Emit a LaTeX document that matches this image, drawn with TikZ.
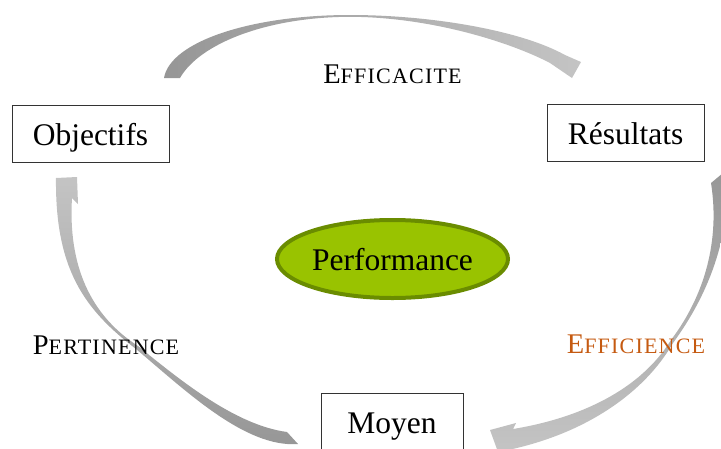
\documentclass[tikz,border=0pt]{standalone}
\usepackage{fontspec}
\setmainfont{Liberation Serif}
\newfontfamily\lsfont[LetterSpace=5.5]{Liberation Serif}
\usetikzlibrary{shapes.geometric}
\definecolor{arrdark}{HTML}{969696}
\definecolor{arrlight}{HTML}{C4C4C4}
\definecolor{perffill}{HTML}{99C300}
\definecolor{perfdraw}{HTML}{6A8C00}
\definecolor{effcol}{HTML}{C55A11}
\newcommand\mysc[2]{{\fontsize{28.5}{30}\selectfont #1}{\lsfont\fontsize{22}{24}\selectfont #2}}
\tikzset{
  boxnode/.style={draw=black!80, line width=0.9pt, rectangle, inner sep=0pt,
    minimum height=57pt, text height=25pt, text depth=2pt,
    font=\fontsize{31.5}{34}\selectfont},
  perfnode/.style={ellipse, draw=perfdraw, fill=perffill, line width=4pt, inner sep=0pt,
    minimum width=231pt, minimum height=78pt, text height=25pt, text depth=2pt,
    font=\fontsize{31.5}{34}\selectfont},
  lbl/.style={anchor=base, inner sep=0pt}
}
\begin{document}
\begin{tikzpicture}[x=1pt,y=-1pt]
\useasboundingbox (0,0) rectangle (721,448);
\clip (0,0) rectangle (721,448);
% top arrow (Efficacite)
\shade[left color=arrdark, right color=arrlight]
  (164,78) .. controls (170,42) and (250,15) .. (350,15)
  .. controls (430,15) and (520,30) .. (565,55)
  -- (581,62) -- (572,78) -- (550,63)
  .. controls (510,42) and (430,17) .. (350,16.8)
  .. controls (268,17) and (200,43) .. (180,78)
  -- cycle;
% right arrow (Efficience)
\shade[top color=arrdark, bottom color=arrlight]
  (711,183) .. controls (720,240) and (705,295) .. (671,340)
  .. controls (640,390) and (580,418) .. (513,429)
  -- (516,423) -- (490,430) -- (498,452)
  .. controls (585,436) and (645,392) .. (673,343)
  .. controls (708,295) and (730,240) .. (729,168)
  -- cycle;
% left arrow (Pertinence)
\shade[top color=arrlight, bottom color=arrdark]
  (56,178) -- (77,177) -- (78,204) -- (72,198)
  .. controls (68,265) and (90,315) .. (138,346)
  .. controls (180,380) and (235,425) .. (287,432)
  -- (298,444)
  .. controls (245,448) and (185,390) .. (136,349)
  .. controls (85,310) and (55,270) .. (56,178)
  -- cycle;
% nodes
\node[boxnode, minimum width=157pt] (obj) at (90.5,133.5) {Objectifs};
\node[boxnode, minimum width=157pt] (res) at (625.5,133) {Résultats};
\node[boxnode, minimum width=142pt] (moy) at (392,421.5) {Moyen};
\node[perfnode] (perf) at (392.5,259) {Performance};
% labels
\node[lbl] (eff) at (392.5,83) {\mysc{E}{FFICACITE}};
\node[lbl] (pert) at (106,354) {\mysc{P}{ERTINENCE}};
\node[lbl, text=effcol] (effi) at (636,353) {\mysc{E}{FFICIENCE}};
\end{tikzpicture}
\end{document}
